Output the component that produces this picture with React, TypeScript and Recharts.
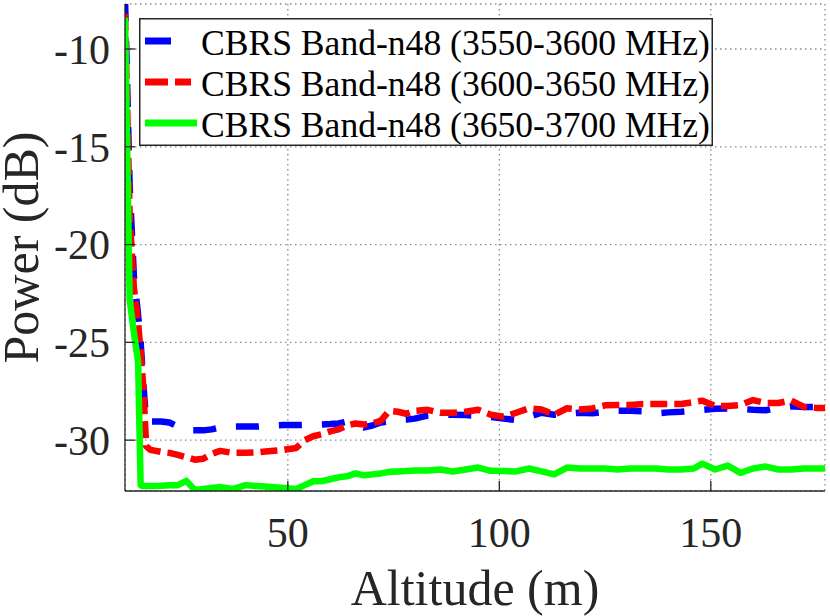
import React from "react";
import {
  LineChart,
  Line,
  XAxis,
  YAxis,
  CartesianGrid,
  Legend,
  Label,
} from "recharts";

// altitude samples (m), shared by the three bands
const ALTITUDE = [
  11.5, 12.6, 13.6, 14.6, 15.2, 15.8, 16.5, 17.5, 20, 22, 24, 26, 28, 30, 32,
  34, 37, 40, 43, 46, 49, 52, 54, 56, 58, 60, 62, 64, 66, 68, 70, 72, 74, 76,
  78, 80, 83, 86, 89, 92, 95, 98, 101, 104, 107, 110, 113, 116, 119, 122, 125,
  128, 131, 134, 137, 140, 143, 146, 148, 151, 154, 157, 160, 163, 166, 169,
  172, 175, 177,
];

// power (dB) per band
const BAND_3550 = [
  -7.4, -17.0, -21.6, -23.6, -25.0, -27.0, -29.05, -29.05, -29.05, -29.1,
  -29.3, -29.5, -29.5, -29.5, -29.45, -29.35, -29.3, -29.3, -29.3, -29.25,
  -29.23, -29.23, -29.22, -29.2, -29.2, -29.18, -29.15, -29.05, -29.2, -29.35,
  -29.25, -29.1, -29.03, -28.98, -28.95, -28.9, -28.75, -28.7, -28.7, -28.72,
  -28.75, -28.82, -28.9, -28.97, -28.8, -28.6, -28.7, -28.65, -28.6, -28.63,
  -28.54, -28.5, -28.5, -28.52, -28.63, -28.58, -28.55, -28.5, -28.45, -28.4,
  -28.38, -28.4, -28.45, -28.47, -28.35, -28.27, -28.3, -28.3, -28.27,
];

const BAND_3600 = [
  -8.2, -18.5, -22.2, -24.0, -25.5, -27.2, -30.3, -30.5, -30.6, -30.65,
  -30.75, -30.87, -31.0, -30.95, -30.7, -30.55, -30.65, -30.65, -30.62,
  -30.55, -30.5, -30.4, -30.0, -29.8, -29.7, -29.55, -29.45, -29.25, -29.15,
  -29.2, -29.15, -29.0, -28.5, -28.55, -28.65, -28.5, -28.45, -28.6, -28.6,
  -28.55, -28.45, -28.7, -28.8, -28.6, -28.37, -28.43, -28.7, -28.37, -28.43,
  -28.38, -28.22, -28.2, -28.2, -28.15, -28.15, -28.15, -28.15, -28.05,
  -27.98, -28.25, -28.25, -28.2, -27.95, -28.1, -28.1, -27.97, -28.3, -28.35,
  -28.35,
];

const BAND_3650 = [
  -8.4, -22.8, -24.5, -26.0, -32.3, -32.35, -32.35, -32.35, -32.33, -32.3,
  -32.3, -32.08, -32.55, -32.5, -32.45, -32.4, -32.5, -32.3, -32.35, -32.4,
  -32.45, -32.5, -32.3, -32.1, -32.1, -32.0, -31.9, -31.85, -31.7, -31.8,
  -31.75, -31.7, -31.62, -31.6, -31.58, -31.55, -31.55, -31.5, -31.6, -31.5,
  -31.4, -31.57, -31.58, -31.6, -31.45, -31.6, -31.75, -31.4, -31.45, -31.45,
  -31.45, -31.5, -31.45, -31.45, -31.45, -31.5, -31.5, -31.45, -31.2, -31.5,
  -31.3, -31.67, -31.45, -31.35, -31.5, -31.5, -31.45, -31.45, -31.45,
];

const X_TICKS = [50, 100, 150];
const Y_TICKS = [-30, -25, -20, -15, -10];

const SERIES = [
  { key: "b1", name: "CBRS Band-n48 (3550-3600 MHz)", color: "#0000ff", dash: "23 20", legendDash: "26 40", legendEnd: 58 },
  { key: "b2", name: "CBRS Band-n48 (3600-3650 MHz)", color: "#ff0000", dash: "17 7", legendDash: "23 7", legendEnd: 52 },
  { key: "b3", name: "CBRS Band-n48 (3650-3700 MHz)", color: "#00ff00", dash: undefined, legendDash: undefined, legendEnd: 58 },
];

const data = ALTITUDE.map((alt, i) => ({
  alt,
  b1: BAND_3550[i],
  b2: BAND_3600[i],
  b3: BAND_3650[i],
}));

const FONT = "'Liberation Serif', 'Times New Roman', serif";
const AXIS = "#262626";

function LegendBox() {
  return (
    <svg width={574} height={128} style={{ display: "block" }}>
      <rect x={0.75} y={0.75} width={572.5} height={126.5} fill="#fff" stroke={AXIS} strokeWidth={1.5} />
      {SERIES.map((s, i) => (
        <g key={s.key}>
          <line
            x1={6}
            x2={s.legendEnd}
            y1={23 + i * 41}
            y2={23 + i * 41}
            stroke={s.color}
            strokeWidth={7}
            strokeDasharray={s.legendDash}
          />
          <text x={62} y={37 + i * 41} fontSize={35.6} fontFamily={FONT} fill="#000">
            {s.name}
          </text>
        </g>
      ))}
    </svg>
  );
}

function YTitle(props: any) {
  const vb = props.viewBox || { x: 0, y: 4, width: 125, height: 487 };
  const x = vb.x + 38;
  const y = vb.y + vb.height / 2;
  return (
    <text
      x={x}
      y={y}
      transform={`rotate(-90 ${x} ${y})`}
      textAnchor="middle"
      fontSize={50}
      fontFamily={FONT}
      fill={AXIS}
    >
      Power (dB)
    </text>
  );
}

export default function App() {
  const tickStyle = { fontSize: 42, fill: AXIS, fontFamily: FONT };
  return (
    <div style={{ position: "absolute", left: 0, top: 0, background: "#fff" }}>
      <LineChart width={830} height={616} data={data} margin={{ top: 4, right: 5, bottom: 0, left: 0 }}>
        <CartesianGrid stroke="#8a8a8a" strokeWidth={1.3} strokeDasharray="1.5 3.5" ticks={Y_TICKS} />
        <XAxis
          dataKey="alt"
          type="number"
          domain={[11.5, 177]}
          ticks={X_TICKS}
          allowDataOverflow
          height={125}
          tickSize={-10}
          tickMargin={36}
          tick={tickStyle}
          stroke={AXIS}
          strokeWidth={1.3}
        >
          <Label value="Altitude (m)" position="insideBottom" offset={11} style={{ fontSize: 50, fontFamily: FONT, fill: AXIS }} />
        </XAxis>
        <XAxis
          xAxisId="top"
          orientation="top"
          dataKey="alt"
          type="number"
          domain={[11.5, 177]}
          ticks={X_TICKS}
          allowDataOverflow
          height={0}
          tickSize={-10}
          tick={() => <g />}
          stroke={AXIS}
          strokeWidth={1.3}
        />
        <YAxis
          type="number"
          domain={[-32.6, -7.7]}
          ticks={Y_TICKS}
          allowDataOverflow
          width={125}
          tickSize={-10}
          tickMargin={25}
          tick={tickStyle}
          stroke={AXIS}
          strokeWidth={1.3}
        >
          <Label content={<YTitle />} />
        </YAxis>
        <YAxis
          yAxisId="right"
          orientation="right"
          type="number"
          domain={[-32.6, -7.7]}
          ticks={Y_TICKS}
          allowDataOverflow
          width={0}
          tickSize={-10}
          tick={() => <g />}
          stroke={AXIS}
          strokeWidth={1.3}
        />
        {SERIES.map((s) => (
          <Line
            key={s.key}
            dataKey={s.key}
            name={s.name}
            stroke={s.color}
            strokeWidth={6.5}
            strokeDasharray={s.dash}
            strokeLinejoin="round"
            dot={false}
            activeDot={false}
            isAnimationActive={false}
          />
        ))}
        <Legend
          layout="horizontal"
          align="center"
          verticalAlign="middle"
          content={() => <LegendBox />}
          wrapperStyle={{ left: 139, top: 18, width: 574, height: 128 }}
        />
      </LineChart>
    </div>
  );
}
